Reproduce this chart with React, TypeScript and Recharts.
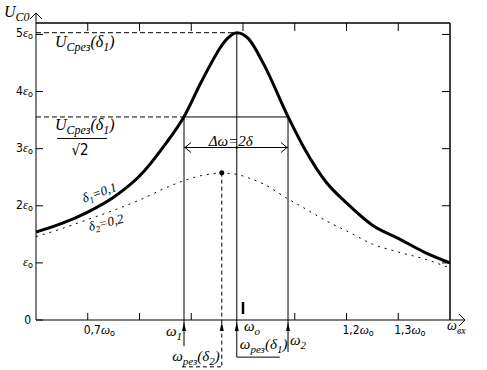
import React from "react";
import { ComposedChart, Line, XAxis, YAxis, ReferenceLine, ReferenceDot } from "recharts";

// relative frequency ω/ω0 and capacitor voltage U_C0 (in units of ε0)
const OMEGA = [0.6, 0.65, 0.7, 0.75, 0.8, 0.85, 0.886, 0.92, 0.95, 0.959, 0.97, 0.988, 1.01, 1.04, 1.087, 1.12, 1.16, 1.2, 1.25, 1.3, 1.35, 1.4];
const UC_DELTA1 = [1.54, 1.69, 1.89, 2.15, 2.52, 3.08, 3.56, 4.18, 4.68, 4.81, 4.93, 5.03, 4.93, 4.48, 3.56, 2.98, 2.42, 2.05, 1.66, 1.43, 1.19, 1.0];
const UC_DELTA2 = [1.46, 1.6, 1.76, 1.92, 2.1, 2.31, 2.44, 2.53, 2.57, 2.58, 2.57, 2.55, 2.49, 2.38, 2.12, 1.95, 1.74, 1.56, 1.33, 1.19, 1.07, 0.91];

const X_TICKS = [0.7, 0.8, 0.9, 1.0, 1.1, 1.2, 1.3];
const X_LABELS = ["0,7", "", "", "", "", "1,2", "1,3"];
const Y_TICKS = [0, 1, 2, 3, 4, 5];
const Y_LABELS = ["0", "", "2", "3", "4", "5"];

const X_MIN = 0.6;
const X_MAX = 1.4;
const Y_MAX = 5.2;

// marked points
const W1 = 0.886;
const W2 = 1.087;
const W_RES1 = 0.988;
const W_RES2 = 0.959;
const U_RES1 = 5.03;
const U_RES2 = 2.58;
const U_HALF = 3.555;
const BAND_Y = 3.02;

// layout
const W = 487;
const H = 370;
const MARGIN = { top: 23, right: 37, bottom: 0, left: 0 };
const Y_AXIS_W = 36;
const X_AXIS_H = 50;
const PLOT_W = W - MARGIN.left - MARGIN.right - Y_AXIS_W;
const PLOT_H = H - MARGIN.top - MARGIN.bottom - X_AXIS_H;
// recharts default tickSize (6) + tickMargin (2): tick props arrive this far from the axis line
const TICK_OFF = 8;

const SANS = '"Liberation Sans Narrow", "DejaVu Sans Condensed", "Liberation Sans", sans-serif';
const SERIF = '"Liberation Serif", "DejaVu Serif", serif';

const data = OMEGA.map((w, i) => ({ w, d1: UC_DELTA1[i], d2: UC_DELTA2[i] }));

type Seg = [string, "n" | "s"];

function Rich({ x, y, segs, size = 14, anchor = "start", rotate = 0 }: any) {
  let level = 0;
  return (
    <text
      x={x}
      y={y}
      textAnchor={anchor}
      fontFamily={SERIF}
      fontStyle="italic"
      fontSize={size}
      fill="#000"
      transform={rotate ? `rotate(${rotate} ${x} ${y})` : undefined}
    >
      {(segs as Seg[]).map(([t, k], i) => {
        const target = k === "s" ? Math.round(size * 0.25) : 0;
        const dy = target - level;
        level = target;
        return (
          <tspan key={i} dy={dy} fontSize={k === "s" ? Math.round(size * 0.72) : size}>
            {t}
          </tspan>
        );
      })}
    </text>
  );
}

// bottom axis tick, plus the matching inward tick on the top edge of the frame
function BottomTick({ x, y, payload, index }: any) {
  const y0 = y - TICK_OFF;
  const isOne = payload.value === 1;
  const lbl = X_LABELS[index];
  return (
    <g>
      {isOne ? (
        <line x1={x} y1={y0 - 18} x2={x} y2={y0 - 6} stroke="#000" strokeWidth={2.5} />
      ) : (
        <line x1={x} y1={y0} x2={x} y2={y0 - 7} stroke="#000" />
      )}
      <line x1={x} y1={y0 - PLOT_H} x2={x} y2={y0 - PLOT_H + 8} stroke="#000" />
      {lbl && (
        <text x={x - 4} y={y0 + 14} fontSize={12} fill="#000">
          <tspan fontFamily={SANS}>{lbl}</tspan>
          <tspan fontFamily={SERIF} fontStyle="italic" fontSize={13}>ω</tspan>
          <tspan fontFamily={SANS} fontSize={9} dy={2}>o</tspan>
        </text>
      )}
    </g>
  );
}

// left axis tick, plus the inward tick on the right edge of the frame
function LeftTick({ x, y, payload, index }: any) {
  const x0 = x + TICK_OFF;
  const v = payload.value;
  return (
    <g>
      <line x1={x0} y1={y} x2={x0 + 7} y2={y} stroke="#000" />
      {v === 0 ? (
        <text x={x0 - 5} y={y + 4} textAnchor="end" fontFamily={SANS} fontSize={12} fill="#000">
          0
        </text>
      ) : (
        <g>
          <line x1={x0 + PLOT_W - 8} y1={y} x2={x0 + PLOT_W} y2={y} stroke="#000" />
          <text x={x0 - 3} y={y + 3} textAnchor="end" fontSize={12} fill="#000">
            <tspan fontFamily={SANS}>{Y_LABELS[index]}</tspan>
            <tspan fontFamily={SERIF} fontStyle="italic" fontSize={13}>ε</tspan>
            <tspan fontFamily={SANS} fontSize={9} dy={2}>o</tspan>
          </text>
        </g>
      )}
    </g>
  );
}

const axisLine = { stroke: "#000", strokeWidth: 1 };

export default function App() {
  return (
    <div style={{ position: "absolute", left: 0, top: 0, background: "#fff" }}>
      <ComposedChart width={W} height={H} data={data} margin={MARGIN}>
        <XAxis
          dataKey="w"
          type="number"
          domain={[X_MIN, X_MAX]}
          allowDataOverflow
          ticks={X_TICKS}
          height={X_AXIS_H}
          axisLine={axisLine}
          tickLine={false}
          tick={BottomTick}
          interval={0}
        />
        <YAxis
          type="number"
          domain={[0, Y_MAX]}
          allowDataOverflow
          ticks={Y_TICKS}
          width={Y_AXIS_W}
          axisLine={axisLine}
          tickLine={false}
          tick={LeftTick}
          interval={0}
        />

        {/* top and right edges of the frame */}
        <ReferenceLine y={Y_MAX} stroke="#000" strokeWidth={1.5} ifOverflow="visible" />
        <ReferenceLine x={X_MAX} stroke="#000" strokeWidth={1.5} ifOverflow="visible" />

        {/* resonance level and half-power level */}
        <ReferenceLine segment={[{ x: X_MIN, y: U_RES1 }, { x: W_RES1, y: U_RES1 }]} stroke="#000" strokeDasharray="5 3" />
        <ReferenceLine segment={[{ x: X_MIN, y: U_HALF }, { x: W1, y: U_HALF }]} stroke="#000" strokeDasharray="5 3" />
        <ReferenceLine segment={[{ x: W1, y: U_HALF }, { x: W2, y: U_HALF }]} stroke="#000" />

        {/* verticals down past the axis */}
        <ReferenceLine segment={[{ x: W1, y: U_HALF }, { x: W1, y: -0.46 }]} stroke="#000" ifOverflow="visible" />
        <ReferenceLine segment={[{ x: W2, y: U_HALF }, { x: W2, y: -0.56 }]} stroke="#000" ifOverflow="visible" />
        <ReferenceLine segment={[{ x: W_RES1, y: U_RES1 }, { x: W_RES1, y: -0.65 }]} stroke="#000" ifOverflow="visible" />
        <ReferenceLine segment={[{ x: W_RES1, y: -0.65 }, { x: 1.071, y: -0.65 }]} stroke="#000" ifOverflow="visible" />
        <ReferenceLine segment={[{ x: W_RES2, y: U_RES2 }, { x: W_RES2, y: -0.82 }]} stroke="#000" strokeDasharray="4 3" ifOverflow="visible" />
        <ReferenceLine segment={[{ x: 0.882, y: -0.82 }, { x: W_RES2, y: -0.82 }]} stroke="#000" strokeDasharray="4 3" ifOverflow="visible" />

        {/* bandwidth double arrow */}
        <ReferenceLine
          segment={[{ x: W1, y: BAND_Y }, { x: W2, y: BAND_Y }]}
          stroke="#000"
          shape={(p: any) => (
            <g stroke="#000" fill="none">
              <line x1={p.x1} y1={p.y1} x2={p.x2} y2={p.y2} />
              <path d={`M${p.x1 + 7} ${p.y1 - 5}L${p.x1 + 1} ${p.y1}L${p.x1 + 7} ${p.y1 + 5}`} />
              <path d={`M${p.x2 - 7} ${p.y2 - 5}L${p.x2 - 1} ${p.y2}L${p.x2 - 7} ${p.y2 + 5}`} />
            </g>
          )}
        />

        <Line dataKey="d2" type="monotone" stroke="#000" strokeWidth={1} strokeDasharray="2 5" dot={false} isAnimationActive={false} />
        <Line dataKey="d1" type="monotone" stroke="#000" strokeWidth={3} dot={false} isAnimationActive={false} />

        <ReferenceDot x={W_RES2} y={U_RES2} r={2.5} fill="#000" stroke="none" />
        <ReferenceDot x={W_RES1} y={BAND_Y} r={1.2} fill="#000" stroke="none" />

        {/* small arrowheads where the verticals meet the axis */}
        {[W1, W_RES2, W_RES1, W2].map((w) => (
          <ReferenceDot
            key={w}
            x={w}
            y={0}
            ifOverflow="visible"
            shape={(p: any) => <path d={`M${p.cx} ${p.cy + 2}L${p.cx - 2} ${p.cy + 11}L${p.cx + 2} ${p.cy + 11}Z`} fill="#000" />}
          />
        ))}

        {/* axis arrows and titles */}
        <ReferenceDot
          x={X_MAX}
          y={0}
          ifOverflow="visible"
          shape={(p: any) => (
            <g>
              <line x1={p.cx} y1={p.cy} x2={p.cx + 15} y2={p.cy} stroke="#000" />
              <path d={`M${p.cx + 9} ${p.cy - 6}L${p.cx + 15} ${p.cy}L${p.cx + 9} ${p.cy + 6}`} stroke="#000" fill="none" />
              <Rich x={p.cx - 3} y={p.cy + 10} size={14} segs={[["ω", "n"], ["вх", "s"]]} />
            </g>
          )}
        />
        <ReferenceDot
          x={X_MIN}
          y={Y_MAX}
          ifOverflow="visible"
          shape={(p: any) => (
            <g>
              <line x1={p.cx} y1={p.cy} x2={p.cx} y2={p.cy - 10} stroke="#000" />
              <path d={`M${p.cx - 6} ${p.cy - 4}L${p.cx} ${p.cy - 10}L${p.cx + 6} ${p.cy - 4}`} stroke="#000" fill="none" />
              <Rich x={p.cx - 32} y={p.cy - 6} size={16} segs={[["U", "n"], ["C0", "s"]]} />
            </g>
          )}
        />

        {/* annotations */}
        <ReferenceDot
          x={X_MIN}
          y={U_RES1}
          ifOverflow="visible"
          shape={(p: any) => (
            <Rich x={p.cx + 19} y={p.cy + 14} size={16} segs={[["U", "n"], ["Cрез", "s"], ["(δ", "n"], ["1", "s"], [")", "n"]]} />
          )}
        />
        <ReferenceDot
          x={X_MIN}
          y={U_HALF}
          ifOverflow="visible"
          shape={(p: any) => (
            <g>
              <Rich x={p.cx + 19} y={p.cy + 13} size={16} segs={[["U", "n"], ["Cрез", "s"], ["(δ", "n"], ["1", "s"], [")", "n"]]} />
              <line x1={p.cx + 21} y1={p.cy + 21.5} x2={p.cx + 71} y2={p.cy + 21.5} stroke="#000" />
              <text x={p.cx + 44} y={p.cy + 38} fontFamily={SANS} fontSize={15} fill="#000" textAnchor="middle">
                √2
              </text>
            </g>
          )}
        />
        <ReferenceDot
          x={W_RES1}
          y={BAND_Y}
          ifOverflow="visible"
          shape={(p: any) => <Rich x={p.cx - 6} y={p.cy - 2} size={15} anchor="middle" segs={[["Δω=2δ", "n"]]} />}
        />
        <ReferenceDot
          x={0.72}
          y={2.16}
          shape={(p: any) => (
            <Rich x={p.cx - 14} y={p.cy + 6} size={13} rotate={-20} segs={[["δ", "n"], ["1", "s"], ["=0,1", "n"]]} />
          )}
        />
        <ReferenceDot
          x={0.735}
          y={1.68}
          shape={(p: any) => (
            <Rich x={p.cx - 16} y={p.cy + 7} size={13} rotate={-14} segs={[["δ", "n"], ["2", "s"], ["=0,2", "n"]]} />
          )}
        />

        {/* labels under the frequency axis */}
        <ReferenceDot
          x={W1}
          y={0}
          ifOverflow="visible"
          shape={(p: any) => <Rich x={p.cx - 2} y={p.cy + 16} anchor="end" size={15} segs={[["ω", "n"], ["1", "s"]]} />}
        />
        <ReferenceDot
          x={W2}
          y={0}
          ifOverflow="visible"
          shape={(p: any) => <Rich x={p.cx + 2} y={p.cy + 25} size={15} segs={[["ω", "n"], ["2", "s"]]} />}
        />
        <ReferenceDot
          x={1.0}
          y={0}
          ifOverflow="visible"
          shape={(p: any) => <Rich x={p.cx + 1} y={p.cy + 11} size={15} segs={[["ω", "n"], ["o", "s"]]} />}
        />
        <ReferenceDot
          x={W_RES1}
          y={0}
          ifOverflow="visible"
          shape={(p: any) => (
            <Rich x={p.cx + 3} y={p.cy + 29} size={15} segs={[["ω", "n"], ["рез", "s"], ["(δ", "n"], ["1", "s"], [")", "n"]]} />
          )}
        />
        <ReferenceDot
          x={W_RES2}
          y={0}
          ifOverflow="visible"
          shape={(p: any) => (
            <Rich x={p.cx - 2} y={p.cy + 41} anchor="end" size={15} segs={[["ω", "n"], ["рез", "s"], ["(δ", "n"], ["2", "s"], [")", "n"]]} />
          )}
        />
      </ComposedChart>
    </div>
  );
}
